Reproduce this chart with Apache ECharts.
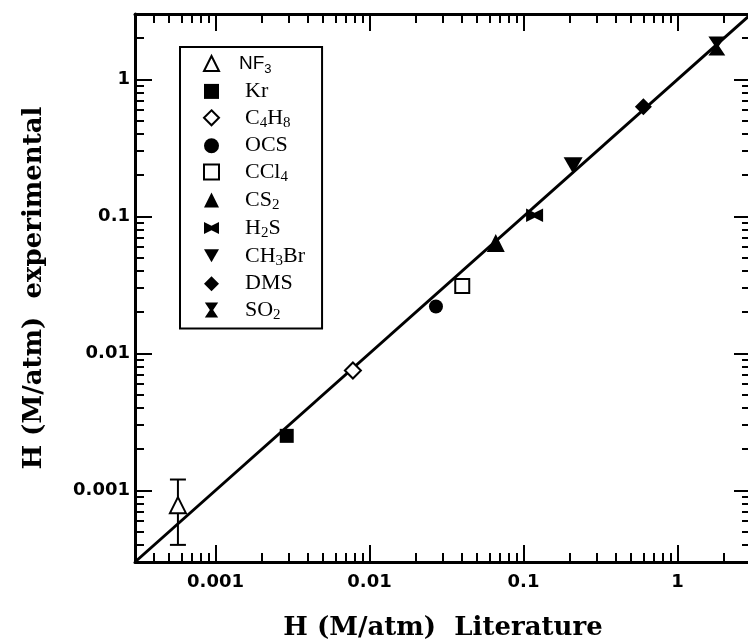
<!DOCTYPE html>
<html>
<head>
<meta charset="utf-8">
<script src="https://cdn.jsdelivr.net/npm/echarts@6/dist/echarts.min.js"></script>
<style>
  html, body { margin: 0; padding: 0; background: #fff; }
  #chart { width: 748px; height: 642px; }
</style>
</head>
<body>
<div id="chart"></div>
<script>
// 各氣體 Henry 常數：文獻值 vs 實驗值 (M/atm)
const gases = ['NF3', 'Kr', 'C4H8', 'OCS', 'CCl4', 'CS2', 'H2S', 'CH3Br', 'DMS', 'SO2'];
const hLiterature = [0.00057, 0.0029, 0.0078, 0.027, 0.040, 0.066, 0.118, 0.21, 0.60, 1.8];
const hExperimental = [0.00078, 0.0025, 0.0075, 0.022, 0.031, 0.064, 0.102, 0.235, 0.63, 1.75];
const nf3Error = [0.0004, 0.0012];
const axisRange = [0.0003, 3];
const fitLine = [0.0003, 3];
const decadeTicks = [0.001, 0.01, 0.1, 1];
const decadeLabels = ['0.001', '0.01', '0.1', '1'];
const minorSteps = [2, 3, 4, 5, 6, 7, 8, 9];
const minorDecades = [0.0001, 0.001, 0.01, 0.1, 1];

const lg = Math.log10;

// 圖例文字（下標），{g| } 用來留出符號與文字的間距
const legendText = {
  NF3: '{gs| }{sf|NF}{ss|3}',
  Kr: '{g| }{n|Kr}',
  C4H8: '{g| }{n|C}{s|4}{n|H}{s|8}',
  OCS: '{g| }{n|OCS}',
  CCl4: '{g| }{n|CCl}{s|4}',
  CS2: '{g| }{n|CS}{s|2}',
  H2S: '{g| }{n|H}{s|2}{n|S}',
  CH3Br: '{g| }{n|CH}{s|3}{n|Br}',
  DMS: '{g| }{n|DMS}',
  SO2: '{g| }{n|SO}{s|2}',
};

const hollow = { color: '#fff', borderColor: '#000', borderWidth: 2, opacity: 1 };
const solid = { color: '#000', borderColor: '#000', borderWidth: 0, opacity: 1 };
const markers = {
  NF3: ['triangle', 16, hollow],
  Kr: ['rect', 14, solid],
  C4H8: ['diamond', 16, hollow],
  OCS: ['circle', 14, solid],
  CCl4: ['rect', 14, hollow],
  CS2: ['triangle', 18, solid],
  H2S: ['path://M0,0L10,5L20,0L20,16L10,11L0,16Z', 17, solid],
  CH3Br: ['path://M0,0L16,0L8,14Z', 19, solid],
  DMS: ['diamond', 17, solid],
  SO2: ['path://M0,0L16,0L10,9L16,18L0,18L6,9Z', 19, solid],
};

const minorTicks = [];
minorDecades.forEach((d) => minorSteps.forEach((k) => minorTicks.push(lg(k * d))));
const majorTicks = decadeTicks.map(lg);

const line = { show: true, onZero: false, lineStyle: { color: '#000', width: 3 } };

function axis(pos, ticks, len, opts) {
  return Object.assign({
    type: 'value',
    position: pos,
    min: lg(axisRange[0]),
    max: lg(axisRange[1]),
    axisLine: { show: false, onZero: false },
    axisTick: {
      show: true, inside: true, length: len, customValues: ticks,
      lineStyle: { color: '#000', width: 2 },
    },
    axisLabel: { show: false },
    splitLine: { show: false },
  }, opts || {});
}

const labelStyle = {
  show: true,
  customValues: majorTicks,
  formatter: (v) => decadeLabels[majorTicks.findIndex((t) => Math.abs(t - v) < 1e-6)],
  color: '#000',
  fontFamily: 'DejaVu Sans',
  fontWeight: 'bold',
  fontSize: 18,
};

const nameStyle = {
  color: '#000',
  fontFamily: 'DejaVu Serif',
  fontWeight: 'bold',
  fontSize: 26,
};

const chart = echarts.init(document.getElementById('chart'));

const scatterSeries = gases.map((g, i) => ({
  name: g,
  type: 'scatter',
  symbol: markers[g][0],
  symbolSize: markers[g][1],
  symbolKeepAspect: true,
  itemStyle: markers[g][2],
  data: [[lg(hLiterature[i]), lg(hExperimental[i])]],
  z: 5,
}));

chart.setOption({
  animation: false,
  backgroundColor: '#fff',
  grid: { left: 135, top: 14, width: 616, height: 548, outerBoundsMode: 'none', containLabel: false },
  legend: {
    orient: 'vertical',
    left: 180,
    top: 47,
    data: gases,
    itemWidth: 15,
    itemHeight: 15,
    itemGap: 4.4,
    padding: [7, 17, 6, 23],
    borderColor: '#000',
    borderWidth: 2,
    selectedMode: false,
    formatter: (n) => legendText[n],
    textStyle: {
      color: '#000',
      rich: {
        g: { width: 21, fontSize: 10, lineHeight: 25 },
        gs: { width: 15, fontSize: 10, lineHeight: 25 },
        n: { fontFamily: 'Liberation Serif', fontSize: 22, lineHeight: 25, color: '#000' },
        s: { fontFamily: 'Liberation Serif', fontSize: 15, lineHeight: 13, verticalAlign: 'bottom', color: '#000' },
        sf: { fontFamily: 'Liberation Sans', fontSize: 19, lineHeight: 25, color: '#000' },
        ss: { fontFamily: 'Liberation Sans', fontSize: 13, lineHeight: 14, verticalAlign: 'bottom', color: '#000' },
      },
    },
  },
  xAxis: [
    axis('bottom', majorTicks, 17, {
      axisLine: line,
      axisLabel: Object.assign({ margin: 11 }, labelStyle),
      name: 'H (M/atm)  Literature',
      nameLocation: 'middle',
      nameGap: 53,
      nameTextStyle: nameStyle,
    }),
    axis('bottom', minorTicks, 9),
    axis('top', majorTicks, 17, { axisLine: line }),
    axis('top', minorTicks, 9),
  ],
  yAxis: [
    axis('left', majorTicks, 17, {
      axisLine: line,
      axisLabel: Object.assign({ margin: 5 }, labelStyle),
      name: 'H (M/atm)  experimental',
      nameLocation: 'middle',
      nameGap: 88,
      nameTextStyle: nameStyle,
    }),
    axis('left', minorTicks, 9),
    axis('right', majorTicks, 17, { axisLine: line }),
    axis('right', minorTicks, 9),
  ],
  series: [
    {
      name: 'fit',
      type: 'line',
      data: fitLine.map((v) => [lg(v), lg(v)]),
      symbol: 'none',
      lineStyle: { color: '#000', width: 3 },
      silent: true,
      z: 2,
    },
    {
      name: 'NF3 error',
      type: 'custom',
      data: [[lg(hLiterature[0]), lg(nf3Error[0]), lg(nf3Error[1])]],
      renderItem: (params, api) => {
        const lo = api.coord([api.value(0), api.value(1)]);
        const hi = api.coord([api.value(0), api.value(2)]);
        const cap = 8;
        const st = { stroke: '#000', lineWidth: 2 };
        return {
          type: 'group',
          children: [
            { type: 'line', shape: { x1: lo[0], y1: lo[1], x2: hi[0], y2: hi[1] }, style: st },
            { type: 'line', shape: { x1: lo[0] - cap, y1: lo[1], x2: lo[0] + cap, y2: lo[1] }, style: st },
            { type: 'line', shape: { x1: hi[0] - cap, y1: hi[1], x2: hi[0] + cap, y2: hi[1] }, style: st },
          ],
        };
      },
      z: 3,
    },
  ].concat(scatterSeries),
});
</script>
</body>
</html>
